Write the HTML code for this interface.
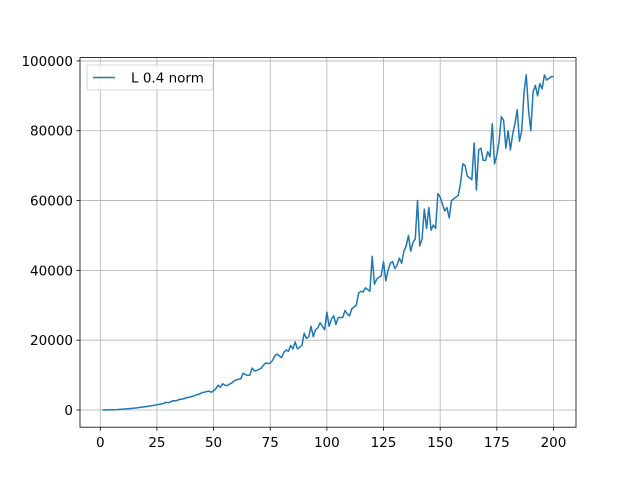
<!DOCTYPE html>
<html><head><meta charset="utf-8"><style>
body{margin:0;background:#fff;font-family:"Liberation Sans","DejaVu Sans",sans-serif}
</style></head><body>
<svg id="chart" width="640" height="480" xmlns="http://www.w3.org/2000/svg" font-family="DejaVu Sans, Liberation Sans, sans-serif">
<rect width="640" height="480" fill="#fff"/>
<g id="grid"></g>
<g id="ticks"></g>
<g id="series"></g>
<rect x="80" y="57.6" width="496" height="369.6" fill="none" stroke="#000" stroke-width="0.8"/>
<g>
<rect x="87" y="65" width="126" height="25" rx="2" fill="#fff" fill-opacity="0.8" stroke="#ccc" stroke-width="0.8"/>
<line x1="93" y1="77.5" x2="115" y2="77.5" stroke="#1f77b4" stroke-width="1.5"/>
<text x="131" y="82.5" font-size="13.5">L 0.4 norm</text>
</g>
</svg>
<script>
const xTicks=[0,25,50,75,100,125,150,175,200];
const yTicks=[0,20000,40000,60000,80000,100000];
const yTickLabels=["0","20000","40000","60000","80000","100000"];
const seriesValues=[2,9,22,37,62,85,118,150,195,240,290,340,405,470,530,610,690,770,860,950,
1050,1150,1260,1380,1480,1620,1730,1870,2200,2100,2300,2650,2600,2750,3050,3100,3250,3550,3600,3800,
4000,4200,4450,4600,5000,5100,5300,5400,5100,5500,6100,7100,6500,7500,7100,7000,7400,7700,8300,8600,
8800,8900,10500,10200,9900,10000,12000,11200,11300,11600,
12000,12800,13500,13300,13400,14200,15500,16000,15500,15000,
16500,17200,16800,18500,17500,19500,17500,18000,18500,22000,
20500,21000,24000,21000,23000,23500,25000,24000,23000,28000,
24000,26000,27000,24500,26500,26500,26500,28500,27500,27000,
29000,29500,30000,33500,34000,33800,35000,34500,34000,44000,
36000,37500,38000,38500,42500,37000,40000,42000,42500,40500,
41500,43500,42000,45500,47000,50000,45500,48000,49000,60000,
47000,49000,57500,52000,58000,51500,53000,52000,62000,61000,
59000,57000,58000,55000,60000,60500,61000,61500,65000,70500,
70000,67000,66500,66000,76500,63000,74500,75000,71500,71500,
74000,72500,82000,70500,73000,77000,84000,83000,75000,80000,
74500,79000,82000,86000,77000,80000,91000,96000,86000,80000,
91000,93000,90000,93500,92000,96000,94500,95000,95500,95500];
const xCategories=seriesValues.map((v,i)=>i+1);
const X0=-8.95,X1=209.95,Y0=-4930,Y1=100950;
const L=80,R=576,T=57.6,B=427.2;
const sx=v=>L+(v-X0)/(X1-X0)*(R-L);
const sy=v=>B-(v-Y0)/(Y1-Y0)*(B-T);
const NS="http://www.w3.org/2000/svg";
function mk(tag,attrs,parent){const e=document.createElementNS(NS,tag);for(const k in attrs)e.setAttribute(k,attrs[k]);parent.appendChild(e);return e;}
const grid=document.getElementById('grid'),ticks=document.getElementById('ticks'),series=document.getElementById('series');
xTicks.forEach(t=>{const x=sx(t);
 const g=mk('line',{x1:x,x2:x,y1:T,y2:B,stroke:'#b0b0b0','stroke-width':0.8},grid);
 
 
 mk('line',{x1:x,x2:x,y1:B,y2:B+3.5,stroke:'#000','stroke-width':0.8},ticks);
 const tx=mk('text',{x:x,y:B+20,'font-size':13.5,'text-anchor':'middle'},ticks);tx.textContent=t;
 
 
});
yTicks.forEach((t,i)=>{const y=sy(t);
 const g=mk('line',{x1:L,x2:R,y1:y,y2:y,stroke:'#b0b0b0','stroke-width':0.8},grid);
 
 
 mk('line',{x1:L-3.5,x2:L,y1:y,y2:y,stroke:'#000','stroke-width':0.8},ticks);
 const tx=mk('text',{x:L-7,y:y+5,'font-size':13.5,'text-anchor':'end'},ticks);tx.textContent=yTickLabels[i];
 
 
});
const d=seriesValues.map((v,i)=>(i?'L':'M')+sx(xCategories[i]).toFixed(2)+','+sy(v).toFixed(2)).join('');
const p=mk('path',{d:d,fill:'none',stroke:'#1f77b4','stroke-width':1.5,'stroke-linejoin':'round'},series);


</script>
</body></html>
